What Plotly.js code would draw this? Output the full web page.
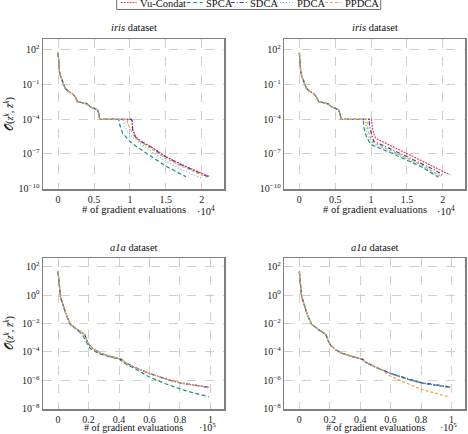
<!DOCTYPE html>
<html>
<head>
<meta charset="utf-8">
<script src="https://cdn.plot.ly/plotly-3.0.1.min.js"></script>
<style>html,body{margin:0;padding:0;background:#fff}</style>
</head>
<body>
<div id="chart" style="width:468px;height:434px"></div>
<script>
// Methods, in legend order
const methods = ['Vu-Condat', 'SPCA', 'SDCA', 'PDCA', 'PPDCA'];
const colors  = ['#e8434f', '#17917b', '#3b3bd4', '#5cc6ea', '#eea23a'];
const dashes  = ['2px,1px', '4px,2.5px', '4px,2px,1px,2px', '1px,2px', '3px,2px'];

// iris: descent shared by all methods up to the plateau at ~1e-4
const irisHeadX = [0, 90, 190, 370, 650, 980, 1450, 1920, 2380, 2710, 3320, 4020, 4490, 5090, 5510, 5700, 5800];
const irisHeadY = [55, 6.6, 1.3, 0.47, 0.17, 0.047, 0.024, 0.017, 0.0089, 0.0033, 0.0027, 0.0021, 0.0012, 8.7e-4, 6.3e-4, 2.3e-4, 9.8e-5];

// iris, first setting: tails after the plateau
const irisA_vuX  = [10300, 10420, 10800, 11500, 13000, 15000, 17000, 19000, 21100];
const irisA_vuY  = [9.8e-5, 1.2e-5, 3.2e-6, 1.3e-6, 4e-7, 6e-8, 1.4e-8, 3.8e-9, 1.1e-9];
const irisA_spX  = [8450, 8600, 9000, 10000, 11000, 13000, 15000, 17800];
const irisA_spY  = [9.8e-5, 3.0e-5, 6e-6, 1.2e-6, 4e-7, 6.5e-8, 9e-9, 1.1e-9];
const irisA_sdX  = [10250, 10380, 10750, 11500, 13000, 15000, 17000, 19000, 21000];
const irisA_sdY  = [9.8e-5, 1.2e-5, 3e-6, 1.2e-6, 3.8e-7, 5.5e-8, 1.3e-8, 3.5e-9, 1.0e-9];
const irisA_pdX  = [9050, 9300, 10000, 11000, 13000, 15000, 17000, 19900];
const irisA_pdY  = [9.8e-5, 2.2e-5, 4.5e-6, 1.3e-6, 1.6e-7, 2.4e-8, 5e-9, 8.5e-10];
const irisA_ppX  = [9600, 9750, 10000, 10500, 11000, 13000, 15000, 17000, 19000, 20700];
const irisA_ppY  = [9.8e-5, 3.5e-5, 1.7e-5, 4e-6, 1.8e-6, 2.6e-7, 4.2e-8, 1.0e-8, 2.8e-9, 1.0e-9];

// iris, second setting: tails after the plateau
const irisB_vuX  = [10050, 10200, 10500, 10650, 13000, 15000, 17000, 19000, 21000];
const irisB_vuY  = [9.8e-5, 1.5e-5, 3.5e-6, 2.3e-6, 4.4e-7, 1.1e-7, 2.6e-8, 6.5e-9, 1.6e-9];
const irisB_spX  = [8900, 9050, 9400, 10000, 13000, 15000, 17000, 19400];
const irisB_spY  = [9.8e-5, 1.3e-5, 2.5e-6, 6.3e-7, 1.1e-7, 3e-8, 8e-9, 1e-9];
const irisB_sdX  = [9700, 9850, 10150, 10400, 13000, 15000, 17000, 19000, 20100];
const irisB_sdY  = [9.8e-5, 1.5e-5, 3.5e-6, 1.2e-6, 2.3e-7, 6e-8, 1.5e-8, 3.8e-9, 1.3e-9];
const irisB_pdX  = [9200, 9350, 9650, 10000, 13000, 15000, 17000, 19600];
const irisB_pdY  = [9.8e-5, 1.4e-5, 2.8e-6, 8e-7, 1.3e-7, 3.6e-8, 9.5e-9, 1.1e-9];
const irisB_ppX  = [9400, 9550, 9850, 10200, 13000, 15000, 17000, 19800];
const irisB_ppY  = [9.8e-5, 1.5e-5, 3e-6, 1e-6, 1.7e-7, 4.5e-8, 1.2e-8, 1.1e-9];

// a1a: common trajectory
const a1aX = [0, 800, 1500, 3000, 5000, 8000, 10000, 13000, 16000, 17500, 19000, 20500, 23500, 28000, 34000, 39500, 41500, 43500, 49500, 60000, 70000, 80000, 90000, 99000];
const a1aY = [45, 3.0, 0.8, 0.25, 0.05, 9e-3, 6e-3, 3.5e-3, 2.2e-3, 1.6e-3, 6e-4, 3.0e-4, 1.5e-4, 8e-5, 5e-5, 3.6e-5, 3.0e-5, 1.9e-5, 9e-6, 3.0e-6, 1.3e-6, 6.5e-7, 4.5e-7, 3.2e-7];

// a1a, first setting: SPCA branches off after 1.3e4 evaluations
const a1aA_spX = [16000, 18000, 19500, 21000, 24000, 28000, 34000, 39500, 42000, 45000, 50000, 60000, 70000, 80000, 90000, 99000];
const a1aA_spY = [1.7e-3, 6e-4, 3.2e-4, 1.8e-4, 1.1e-4, 7e-5, 4.5e-5, 3.3e-5, 2.2e-5, 1.3e-5, 7e-6, 1.7e-6, 6e-7, 2.5e-7, 1.2e-7, 7e-8];

// a1a, second setting: PPDCA and SDCA tails
const a1aB_ppX = [55000, 60000, 70000, 80000, 90000, 99000];
const a1aB_ppY = [4.8e-6, 1.9e-6, 7e-7, 2.3e-7, 1.2e-7, 6.5e-8];
const a1aB_sdX = [70000, 80000, 90000, 99000];
const a1aB_sdY = [1.4e-6, 7e-7, 4.8e-7, 3.4e-7];

// Axis tick values / labels
const irisXTicks = [0, 5000, 10000, 15000, 20000];
const irisXText  = ['0', '0.5', '1', '1.5', '2'];
const irisYTicks = [1e2, 1e-1, 1e-4, 1e-7, 1e-10];
const irisYText  = ['10<sup>2</sup>', '10<sup>−1</sup>', '10<sup>−4</sup>', '10<sup>−7</sup>', '10<sup>−10</sup>'];
const a1aXTicks  = [0, 20000, 40000, 60000, 80000, 100000];
const a1aXText   = ['0', '0.2', '0.4', '0.6', '0.8', '1'];
const a1aYTicks  = [1e2, 1, 1e-2, 1e-4, 1e-6, 1e-8];
const a1aYText   = ['10<sup>2</sup>', '10<sup>0</sup>', '10<sup>−2</sup>', '10<sup>−4</sup>', '10<sup>−6</sup>', '10<sup>−8</sup>'];

// Build the series of each panel
const idx = (arr, v) => arr.indexOf(v);
const panels = [
  [ // iris, left
    [irisHeadX.concat(irisA_vuX), irisHeadY.concat(irisA_vuY)],
    [irisHeadX.concat(irisA_spX), irisHeadY.concat(irisA_spY)],
    [irisHeadX.concat(irisA_sdX), irisHeadY.concat(irisA_sdY)],
    [irisHeadX.concat(irisA_pdX), irisHeadY.concat(irisA_pdY)],
    [irisHeadX.concat(irisA_ppX), irisHeadY.concat(irisA_ppY)]
  ],
  [ // iris, right
    [irisHeadX.concat(irisB_vuX), irisHeadY.concat(irisB_vuY)],
    [irisHeadX.concat(irisB_spX), irisHeadY.concat(irisB_spY)],
    [irisHeadX.concat(irisB_sdX), irisHeadY.concat(irisB_sdY)],
    [irisHeadX.concat(irisB_pdX), irisHeadY.concat(irisB_pdY)],
    [irisHeadX.concat(irisB_ppX), irisHeadY.concat(irisB_ppY)]
  ],
  [ // a1a, left
    [a1aX, a1aY],
    [a1aX.slice(0, idx(a1aX, 13000) + 1).concat(a1aA_spX), a1aY.slice(0, idx(a1aX, 13000) + 1).concat(a1aA_spY)],
    [a1aX, a1aY],
    [a1aX, a1aY],
    [a1aX, a1aY]
  ],
  [ // a1a, right
    [a1aX, a1aY],
    [a1aX, a1aY],
    [a1aX.slice(0, idx(a1aX, 60000) + 1).concat(a1aB_sdX), a1aY.slice(0, idx(a1aX, 60000) + 1).concat(a1aB_sdY)],
    [a1aX, a1aY],
    [a1aX.slice(0, idx(a1aX, 49500) + 1).concat(a1aB_ppX), a1aY.slice(0, idx(a1aX, 49500) + 1).concat(a1aB_ppY)]
  ]
];

const traces = [];
panels.forEach((series, p) => {
  const sfx = p === 0 ? '' : String(p + 1);
  series.forEach((s, m) => {
    traces.push({
      x: s[0], y: s[1], type: 'scatter', mode: 'lines',
      name: methods[m], showlegend: false,
      xaxis: 'x' + sfx, yaxis: 'y' + sfx,
      line: {color: colors[m], width: 1.2, dash: dashes[m]}
    });
  });
});

// Page geometry (pixels) -> paper coordinates, margins are zero
const W = 468, H = 434;
const px = v => v / W;
const py = v => 1 - v / H;
const serif = 'Liberation Serif';
const tickFont = {family: serif, size: 10, color: '#222'};

function xAxis(dom, range, tv, tt, anchor) {
  return {domain: [px(dom[0]), px(dom[1])], range: range, anchor: anchor,
    tickvals: tv, ticktext: tt, tickfont: tickFont, ticks: '',
    showgrid: true, gridcolor: '#cfcfcf', griddash: 'dash', gridwidth: 1,
    zeroline: false, showline: true, mirror: true, linecolor: '#808080', linewidth: 1.5};
}
function yAxis(dom, range, tv, tt, anchor) {
  return {type: 'log', domain: [py(dom[1]), py(dom[0])], range: range, anchor: anchor,
    tickvals: tv, ticktext: tt, tickfont: tickFont, ticks: '',
    showgrid: true, gridcolor: '#cfcfcf', griddash: 'dash', gridwidth: 1,
    zeroline: false, showline: true, mirror: true, linecolor: '#808080', linewidth: 1.5};
}

const leftX = [43, 224], rightX = [284.3, 465];
const topY = [39, 189], botY = [258, 409];
const irisXR = [-2100, 23100], a1aXR = [-9900, 108900];
const irisYR = [-10.02, 2.92], a1aYR = [-8.02, 2.61];

const annFont = {family: serif, size: 10.5, color: '#111'};
const ann = (x, y, text, extra) => Object.assign({xref: 'paper', yref: 'paper',
  x: px(x), y: py(y), text: text, showarrow: false, font: annFont,
  xanchor: 'center', yanchor: 'middle'}, extra || {});
const smallFont = {family: serif, size: 10, color: '#111'};

const yTitle = '𝒪(<i>z</i><sup><i>k</i></sup>, <i>z̄</i><sup><i>k</i></sup>)';
const annotations = [
  ann(133.5, 27, '<i>iris</i> dataset'),
  ann(375, 27, '<i>iris</i> dataset'),
  ann(133.5, 247, '<i>a1a</i> dataset'),
  ann(375, 247, '<i>a1a</i> dataset'),
  ann(133.5, 209.5, '# of gradient evaluations'),
  ann(375, 209.5, '# of gradient evaluations'),
  ann(133.5, 434, '# of gradient evaluations', {yanchor: 'bottom', font: smallFont, borderpad: 0}),
  ann(375, 434, '# of gradient evaluations', {yanchor: 'bottom', font: smallFont, borderpad: 0}),
  ann(206, 211, '·10<sup>4</sup>'),
  ann(446, 211, '·10<sup>4</sup>'),
  ann(207, 434, '·10<sup>5</sup>', {yanchor: 'bottom', font: smallFont, borderpad: 0}),
  ann(448, 434, '·10<sup>5</sup>', {yanchor: 'bottom', font: smallFont, borderpad: 0}),
  ann(9, 114, yTitle, {textangle: -90}),
  ann(9, 333, yTitle, {textangle: -90})
];

// Legend across the top, drawn from the method list
const legendSample = [120.7, 186.7, 230.7, 277, 325];
const shapes = [{type: 'rect', xref: 'paper', yref: 'paper',
  x0: px(116.7), x1: px(380.7), y0: py(9.5), y1: py(-12),
  line: {color: '#707070', width: 1}, fillcolor: 'rgba(255,255,255,0)'}];
methods.forEach((m, i) => {
  shapes.push({type: 'line', xref: 'paper', yref: 'paper',
    x0: px(legendSample[i]), x1: px(legendSample[i] + 16), y0: py(2.5), y1: py(2.5),
    line: {color: colors[i], width: 1.2, dash: dashes[i]}});
  annotations.push(ann(legendSample[i] + 17.5, 3.5, m, {xanchor: 'left'}));
});

const layout = {
  width: W, height: H, margin: {l: 0, r: 0, t: 0, b: 0},
  paper_bgcolor: '#fff', plot_bgcolor: '#fff', showlegend: false,
  xaxis:  xAxis(leftX,  irisXR, irisXTicks, irisXText, 'y'),
  yaxis:  yAxis(topY,   irisYR, irisYTicks, irisYText, 'x'),
  xaxis2: xAxis(rightX, irisXR, irisXTicks, irisXText, 'y2'),
  yaxis2: yAxis(topY,   irisYR, irisYTicks, irisYText, 'x2'),
  xaxis3: xAxis(leftX,  a1aXR, a1aXTicks, a1aXText, 'y3'),
  yaxis3: yAxis(botY,   a1aYR, a1aYTicks, a1aYText, 'x3'),
  xaxis4: xAxis(rightX, a1aXR, a1aXTicks, a1aXText, 'y4'),
  yaxis4: yAxis(botY,   a1aYR, a1aYTicks, a1aYText, 'x4'),
  annotations: annotations, shapes: shapes
};

Plotly.newPlot('chart', traces, layout, {displayModeBar: false, staticPlot: true});
</script>
</body>
</html>
